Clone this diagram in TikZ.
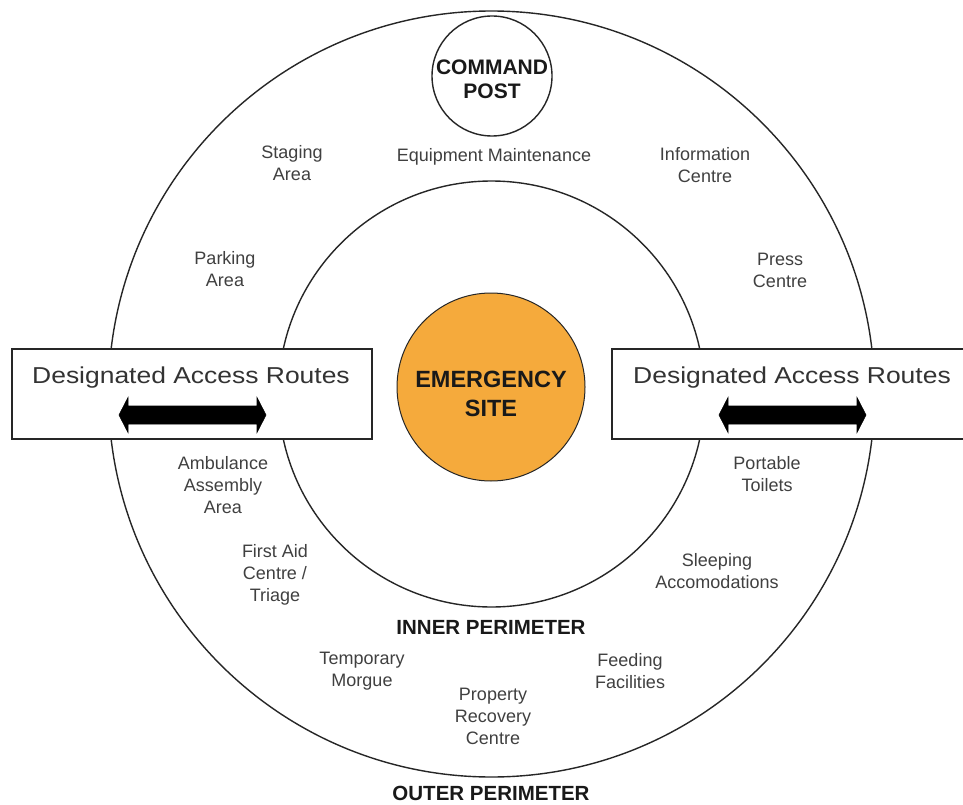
\documentclass[tikz,border=0pt]{standalone}
\usepackage{fontspec}
\setmainfont{Liberation Sans}
\newfontfamily\widesans[FakeStretch=1.15]{Liberation Sans}
\begin{document}
\begin{tikzpicture}[x=1pt,y=-1pt,
  ring/.style={draw=black!85,line width=1.4pt},
  lbl/.style={text=black!75,align=center,inner sep=0pt,font=\fontsize{18}{22}\selectfont},
  bold/.style={text=black!90,align=center,inner sep=0pt,font=\bfseries\fontsize{20.5}{24}\selectfont},
  routebox/.style={draw=black!85,line width=1.4pt,fill=white},
  routetext/.style={text=black!80,inner sep=0pt,font=\widesans\fontsize{23}{28}\selectfont},
  blockarrow/.style={fill=black,draw=black,line width=0.6pt}
]
\useasboundingbox (0,0) rectangle (963,805);
\fill[white] (0,0) rectangle (963,805);
% perimeters
\draw[ring] (491.5,394) circle[radius=383];
\draw[ring] (491.5,394) circle[radius=213];
% command post
\node[ring,fill=white,circle,minimum size=120pt,inner sep=0pt] (cp) at (492,76) {};
\node[bold,font=\bfseries\fontsize{21}{24}\selectfont] (cpt) at (492,79) {COMMAND\\POST};
% emergency site
\node[circle,draw=black!85,line width=1pt,fill={rgb,255:red,245;green,170;blue,60},minimum size=188pt,inner sep=0pt] (es) at (491,387) {};
\node[bold,font=\bfseries\fontsize{23.5}{29}\selectfont] (est) at (491,394) {EMERGENCY\\SITE};
% access route boxes
\draw[routebox] (12,349) rectangle (372,439);
\draw[routebox] (612,349) rectangle (975,439);
\node[routetext] (lt) at (191,378) {Designated Access Routes};
\node[routetext] (rt) at (792,378) {Designated Access Routes};
% arrows
\fill[blockarrow] (119,415) -- (128,397.5) -- (128,406) -- (257,406) -- (257,397.5) -- (266,415) -- (257,432.5) -- (257,424) -- (128,424) -- (128,432.5) -- cycle;
\fill[blockarrow] (719,415) -- (728,397.5) -- (728,406) -- (857,406) -- (857,397.5) -- (866,415) -- (857,432.5) -- (857,424) -- (728,424) -- (728,432.5) -- cycle;
% labels
\node[lbl] (staging) at (292,163) {Staging\\Area};
\node[lbl] (equip) at (494,157) {Equipment Maintenance};
\node[lbl] (info) at (705,165.5) {Information\\Centre};
\node[lbl] (press) at (780,270.5) {Press\\Centre};
\node[lbl] (parking) at (225,269) {Parking\\Area};
\node[lbl] (amb) at (223,485.5) {Ambulance\\Assembly\\Area};
\node[lbl] (firstaid) at (275,575) {First Aid\\Centre /\\Triage};
\node[lbl] (toilets) at (767,474.5) {Portable\\Toilets};
\node[lbl] (sleep) at (717,571.5) {Sleeping\\Accomodations};
\node[lbl] (morgue) at (362,671) {Temporary\\Morgue};
\node[lbl] (property) at (493,716.5) {Property\\Recovery\\Centre};
\node[lbl] (feeding) at (630,671) {Feeding\\Facilities};
\node[bold] (inner) at (491,627) {INNER PERIMETER};
\node[bold] (outer) at (491,793) {OUTER PERIMETER};
\end{tikzpicture}
\end{document}
